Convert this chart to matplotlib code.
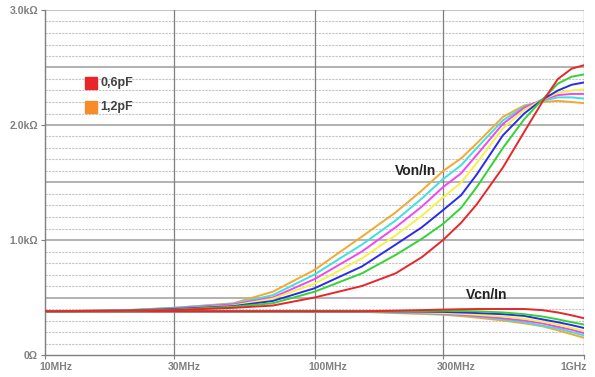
import matplotlib
matplotlib.use("Agg")
import matplotlib.pyplot as plt
import matplotlib.transforms as mtransforms
from matplotlib.patches import Rectangle
import numpy as np

# frequencies in MHz
freq = [10, 20, 30, 50, 70, 100, 150, 200, 250, 300, 350, 400, 500, 600, 700, 800, 900, 1000]

# Von/In impedance (kOhm) for the 7 capacitance steps
von_red     = [0.38, 0.385, 0.39, 0.41, 0.43, 0.50, 0.60, 0.71, 0.85, 1.00, 1.15, 1.31, 1.63, 1.94, 2.20, 2.40, 2.49, 2.52]
von_green   = [0.38, 0.385, 0.395, 0.42, 0.45, 0.55, 0.71, 0.87, 1.01, 1.14, 1.28, 1.46, 1.80, 2.05, 2.22, 2.36, 2.42, 2.44]
von_blue    = [0.38, 0.386, 0.40, 0.425, 0.47, 0.58, 0.77, 0.96, 1.11, 1.26, 1.39, 1.57, 1.91, 2.10, 2.22, 2.30, 2.35, 2.37]
von_yellow  = [0.38, 0.387, 0.40, 0.43, 0.49, 0.62, 0.84, 1.04, 1.21, 1.37, 1.50, 1.67, 1.97, 2.13, 2.22, 2.28, 2.30, 2.31]
von_magenta = [0.38, 0.388, 0.405, 0.44, 0.50, 0.66, 0.90, 1.11, 1.29, 1.46, 1.58, 1.74, 2.01, 2.15, 2.22, 2.26, 2.27, 2.27]
von_cyan    = [0.38, 0.389, 0.41, 0.445, 0.52, 0.70, 0.96, 1.17, 1.36, 1.53, 1.65, 1.80, 2.04, 2.16, 2.21, 2.24, 2.24, 2.23]
von_orange  = [0.38, 0.39, 0.41, 0.45, 0.55, 0.74, 1.03, 1.24, 1.43, 1.60, 1.71, 1.84, 2.07, 2.17, 2.20, 2.21, 2.20, 2.19]

# Vcn/In impedance (kOhm)
vcn_red     = [0.38, 0.38, 0.38, 0.38, 0.38, 0.38, 0.38, 0.385, 0.39, 0.395, 0.398, 0.40, 0.40, 0.40, 0.39, 0.37, 0.345, 0.32]
vcn_green   = [0.38, 0.38, 0.38, 0.38, 0.38, 0.38, 0.38, 0.38, 0.383, 0.385, 0.383, 0.38, 0.37, 0.355, 0.335, 0.31, 0.285, 0.265]
vcn_blue    = [0.38, 0.38, 0.38, 0.38, 0.38, 0.38, 0.38, 0.378, 0.377, 0.375, 0.37, 0.365, 0.355, 0.34, 0.31, 0.285, 0.26, 0.235]
vcn_yellow  = [0.38, 0.38, 0.38, 0.38, 0.38, 0.38, 0.378, 0.375, 0.37, 0.365, 0.358, 0.35, 0.335, 0.315, 0.29, 0.265, 0.235, 0.21]
vcn_magenta = [0.38, 0.38, 0.38, 0.38, 0.38, 0.38, 0.377, 0.372, 0.366, 0.36, 0.35, 0.34, 0.32, 0.30, 0.275, 0.245, 0.22, 0.19]
vcn_cyan    = [0.38, 0.38, 0.38, 0.38, 0.38, 0.379, 0.376, 0.37, 0.362, 0.355, 0.345, 0.335, 0.31, 0.285, 0.255, 0.23, 0.20, 0.17]
vcn_orange  = [0.38, 0.38, 0.38, 0.38, 0.38, 0.378, 0.375, 0.365, 0.357, 0.35, 0.338, 0.325, 0.30, 0.275, 0.25, 0.215, 0.18, 0.15]

colors = ["#e8262a", "#35d235", "#2b2bea", "#f2f24a", "#f048f0", "#3ee0e0", "#f5a830"]
von = [von_red, von_green, von_blue, von_yellow, von_magenta, von_cyan, von_orange]
vcn = [vcn_red, vcn_green, vcn_blue, vcn_yellow, vcn_magenta, vcn_cyan, vcn_orange]

xticks = [10, 30, 100, 300, 1000]
xlabels = ["10MHz", "30MHz", "100MHz", "300MHz", "1GHz"]
yticks = [0, 1, 2, 3]
ylabels = ["0\u03a9", "1.0k\u03a9", "2.0k\u03a9", "3.0k\u03a9"]
legend_labels = ["0,6pF", "1,2pF"]
legend_colors = ["#e8262a", "#f78d2a"]

W, H = 595, 377
fig = plt.figure(figsize=(W / 100, H / 100), dpi=100)
L, R, T, B = 45, 584, 10, 355
ax = fig.add_axes([L / W, 1 - B / H, (R - L) / W, (B - T) / H])

ax.set_xscale("log")
ax.set_xlim(10, 1000)
ax.set_ylim(0, 3.0)

# grid
for v in np.arange(0.1, 3.0, 0.1):
    if abs(v * 2 - round(v * 2)) < 1e-6:
        ax.axhline(v, color="#a6a6a6", lw=1.2, zorder=1)
    else:
        ax.axhline(v, color="#c4c4c4", lw=0.8, ls=(0, (2, 1)), zorder=1)
ax.axhline(3.0, color="#c4c4c4", lw=0.8, zorder=1)
for xv in xticks[1:]:
    ax.axvline(xv, color="#7f7f7f", lw=0.9, zorder=1)

for c, yv in zip(colors[::-1], vcn[::-1]):
    ax.plot(freq, yv, color=c, lw=1.4, zorder=3, solid_capstyle="round", solid_joinstyle="round")
for c, yv in zip(colors[::-1], von[::-1]):
    ax.plot(freq, yv, color=c, lw=1.4, zorder=3, solid_capstyle="round", solid_joinstyle="round")

for s in ["top", "right"]:
    ax.spines[s].set_visible(False)
for s in ["left", "bottom"]:
    ax.spines[s].set_color("#7f7f7f")
    ax.spines[s].set_linewidth(1.0)

ax.set_yticks(yticks)
ax.set_yticklabels(ylabels)
ax.set_xticks(xticks)
ax.set_xticklabels(xlabels)
ax.xaxis.set_minor_locator(matplotlib.ticker.NullLocator())
ax.tick_params(axis="both", colors="#7f7f7f", length=3, width=0.8, pad=2)
for lab in ax.get_yticklabels():
    lab.set_fontfamily("Liberation Sans")
    lab.set_fontweight("bold")
    lab.set_fontsize(7.5)
    lab.set_color("#7f7f7f")
xl = ax.get_xticklabels()
for i, lab in enumerate(xl):
    lab.set_fontfamily("Liberation Sans")
    lab.set_fontweight("bold")
    lab.set_fontsize(7.5)
    lab.set_color("#7f7f7f")
    if i < len(xl) - 1:
        lab.set_horizontalalignment("left")
        lab.set_transform(lab.get_transform() + mtransforms.ScaledTranslation(-6 / 100, 0, fig.dpi_scale_trans))
    else:
        lab.set_horizontalalignment("right")
        lab.set_transform(lab.get_transform() + mtransforms.ScaledTranslation(3 / 100, 0, fig.dpi_scale_trans))

# legend squares
for i, (lab, c) in enumerate(zip(legend_labels, legend_colors)):
    y0 = 77 + i * 24
    fig.patches.append(Rectangle((85 / W, 1 - (y0 + 12) / H), 12 / W, 12 / H,
                                 transform=fig.transFigure, color=c, zorder=5))
    fig.text(100 / W, 1 - (y0 + 6) / H, lab, fontsize=9, fontweight="bold",
             color="#404040", va="center", ha="left", family="Liberation Sans")

fig.text(395 / W, 1 - 171 / H, "Von/In", fontsize=10, fontweight="bold",
         color="#222222", va="center", ha="left", family="Liberation Sans")
fig.text(466 / W, 1 - 295 / H, "Vcn/In", fontsize=10, fontweight="bold",
         color="#222222", va="center", ha="left", family="Liberation Sans")

fig.savefig("out.png", dpi=100)
